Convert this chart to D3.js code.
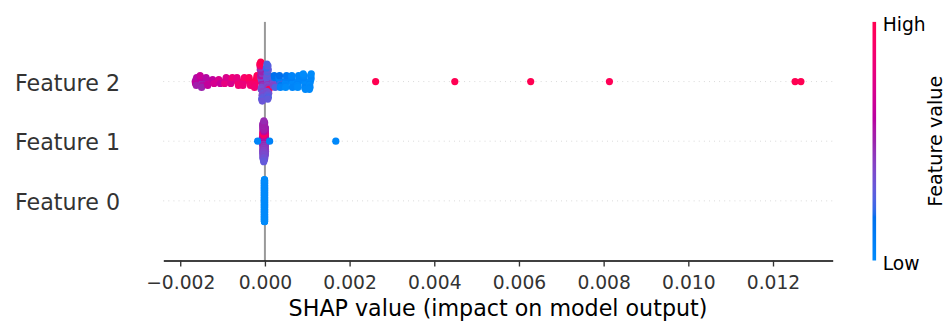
<!DOCTYPE html>
<html>
<head>
<meta charset="utf-8">
<script src="https://cdn.jsdelivr.net/npm/d3@7"></script>
<style>
  html, body { margin: 0; padding: 0; background: #fff; }
  svg { display: block; font-family: "DejaVu Sans", sans-serif; }
</style>
</head>
<body>
<script>
// Feature names, bottom row first
const featureNames = ["Feature 0", "Feature 1", "Feature 2"];

// SHAP values per sample (152 samples) for each feature
const shapF2 = [
  -0.001646, -0.001628, -0.001639, -0.001612, -0.001620,
  -0.001503, -0.001521, -0.001488, -0.001510, -0.001475, -0.001530, -0.001495,
  -0.001362, -0.001375, -0.001340, -0.001390, -0.001350,
  -0.001220, -0.001235, -0.001200,
  -0.001070, -0.001090, -0.001055,
  -0.000935, -0.000920, -0.000950, -0.000915,
  -0.000790, -0.000775, -0.000805, -0.000770,
  -0.000640, -0.000655, -0.000630, -0.000660, -0.000625,
  -0.000505, -0.000490, -0.000515, -0.000485, -0.000520,
  -0.000355, -0.000370, -0.000345, -0.000375, -0.000340,
  -0.000215, -0.000200, -0.000230, -0.000190, -0.000240, -0.000185, -0.000245,
  -0.000070, -0.000085, -0.000060, -0.000095, -0.000050, -0.000100, -0.000080,
  -0.000065, -0.000090, -0.000075, -0.000055, -0.000110, -0.000045, -0.000105,
  -0.000068, -0.000115, -0.000040, -0.000120, -0.000078, -0.000098, -0.000062,
  0.000070, 0.000055, 0.000085, 0.000040, 0.000060, 0.000095, 0.000075,
  0.000050, 0.000100, 0.000065, 0.000045, 0.000080, 0.000090, 0.000035,
  0.000058, 0.000072, 0.000082, 0.000048, 0.000068,
  0.000210, 0.000225, 0.000200, 0.000235, 0.000195, 0.000220, 0.000240,
  0.000355, 0.000340, 0.000370, 0.000330, 0.000380, 0.000345, 0.000365,
  0.000500, 0.000515, 0.000485, 0.000520, 0.000480, 0.000510, 0.000490,
  0.000645, 0.000630, 0.000655, 0.000625, 0.000660, 0.000635, 0.000650,
  0.000785, 0.000800, 0.000770, 0.000805, 0.000765, 0.000795, 0.000775,
  0.000930, 0.000915, 0.000945, 0.000910, 0.000950, 0.000920, 0.000940, 0.000905, 0.000955,
  0.001070, 0.001085, 0.001060, 0.001090, 0.001055, 0.001080, 0.001065, 0.001095, 0.001050,
  0.002615, 0.004485, 0.006277, 0.008137, 0.012522, 0.012659
];
// normalised feature values (0 = low, 1 = high)
const valueF2 = [
  0.60, 0.55, 0.62, 0.58, 0.52,
  0.55, 0.62, 0.48, 0.60, 0.57, 0.65, 0.50,
  0.60, 0.52, 0.66, 0.58, 0.63,
  0.66, 0.62, 0.70,
  0.68, 0.72, 0.64,
  0.74, 0.70, 0.78, 0.72,
  0.76, 0.80, 0.72, 0.82,
  0.80, 0.76, 0.84, 0.78, 0.86,
  0.84, 0.88, 0.80, 0.90, 0.82,
  0.88, 0.92, 0.85, 0.94, 0.86,
  0.92, 0.95, 0.90, 0.97, 0.88, 0.96, 0.85,
  0.48, 0.40, 0.52, 0.38, 0.46, 0.55, 0.36,
  0.44, 0.34, 0.50, 0.40, 0.50, 0.32, 0.45,
  0.36, 0.80, 0.30, 0.97, 0.28, 1.00, 0.32,
  0.40, 0.35, 0.45, 0.30, 0.38, 0.28, 0.42,
  0.32, 0.98, 0.25, 0.36, 0.30, 0.34, 0.22,
  0.30, 0.28, 0.26, 0.25, 0.30,
  0.30, 0.20, 0.35, 0.15, 0.40, 0.18, 0.25,
  0.15, 0.10, 0.22, 0.08, 0.12, 0.18, 0.05,
  0.05, 0.10, 0.02, 0.08, 0.04, 0.12, 0.00,
  0.03, 0.06, 0.00, 0.08, 0.02, 0.05, 0.04,
  0.02, 0.00, 0.05, 0.03, 0.01, 0.04, 0.00,
  0.00, 0.03, 0.01, 0.05, 0.00, 0.02, 0.04, 0.00, 0.01,
  0.02, 0.00, 0.03, 0.01, 0.00, 0.04, 0.02, 0.00, 0.01,
  1.00, 0.99, 1.00, 0.98, 1.00, 0.99
];

const shapF1 = [
  0.000029, 0.000026, 0.000032,
  0.000011, 0.000008, 0.000014, 0.000010, 0.000012, 0.000009, 0.000013, 0.000011, 0.000007,
  0.000015, 0.000010, 0.000012, 0.000008, 0.000014, 0.000011, 0.000009, 0.000013, 0.000010,
  0.000012, 0.000008, 0.000014, 0.000011, 0.000009, 0.000013, 0.000010, 0.000012, 0.000011,
  -0.000063, -0.000060, -0.000066, -0.000062, -0.000064, -0.000061,
  -0.000008, -0.000005, -0.000011, -0.000007, -0.000009, -0.000004, -0.000012, -0.000006, -0.000010, -0.000008,
  -0.000003, -0.000013, -0.000007, -0.000009, -0.000005, -0.000011, -0.000008, -0.000006, -0.000010, -0.000004,
  -0.000012, -0.000007, -0.000009, -0.000005, -0.000011, -0.000008, -0.000006, -0.000010, -0.000003, -0.000013,
  -0.000007, -0.000009, -0.000005, -0.000011, -0.000008, -0.000006, -0.000010,
  -0.000045, -0.000042, -0.000048, -0.000044, -0.000046, -0.000041, -0.000049, -0.000043, -0.000047, -0.000045,
  -0.000040, -0.000050, -0.000044, -0.000046, -0.000042, -0.000048, -0.000045, -0.000043, -0.000047, -0.000041,
  -0.000049, -0.000044, -0.000046, -0.000042, -0.000048, -0.000045, -0.000043, -0.000047, -0.000040, -0.000050,
  -0.000044, -0.000046, -0.000042, -0.000048, -0.000045,
  -0.000026, -0.000023, -0.000029, -0.000025, -0.000027, -0.000022, -0.000030, -0.000024, -0.000028, -0.000026,
  -0.000021, -0.000031, -0.000025, -0.000027, -0.000023, -0.000029, -0.000026, -0.000024, -0.000028, -0.000022,
  -0.000030, -0.000025, -0.000027, -0.000023, -0.000029, -0.000026, -0.000024, -0.000028, -0.000021, -0.000031,
  -0.000025, -0.000027, -0.000023, -0.000029, -0.000026, -0.000024, -0.000028, -0.000022, -0.000030, -0.000025,
  -0.000027,
  -0.000174, 0.000111, 0.001674
];
const valueF1 = [
  0.58, 0.50, 0.45,
  0.62, 0.56, 0.50, 0.55, 0.48, 0.60, 0.45, 0.53, 0.49,
  0.64, 0.43, 0.72, 0.46, 0.90, 0.41, 0.74, 0.45, 0.66,
  0.40, 0.57, 0.42, 0.54, 0.38, 0.52, 0.40, 0.50, 0.37,
  0.58, 0.52, 0.48, 0.55, 0.46, 0.50,
  0.60, 0.56, 0.48, 0.54, 0.46, 0.57, 0.44, 0.55, 0.48, 0.62,
  0.42, 0.72, 0.45, 0.90, 0.40, 0.70, 0.44, 0.64, 0.39, 0.57,
  0.40, 0.54, 0.37, 0.51, 0.38, 0.52, 0.36, 0.50, 0.35, 0.48,
  0.37, 0.52, 0.33, 0.49, 0.32, 0.50, 0.34,
  0.60, 0.55, 0.49, 0.56, 0.46, 0.58, 0.44, 0.53, 0.49, 0.63,
  0.43, 0.74, 0.45, 0.96, 0.42, 0.93, 0.44, 0.70, 0.39, 0.58,
  0.42, 0.52, 0.38, 0.51, 0.38, 0.50, 0.36, 0.52, 0.35, 0.48,
  0.37, 0.50, 0.33, 0.49, 0.32,
  0.62, 0.57, 0.50, 0.56, 0.47, 0.59, 0.45, 0.54, 0.49, 0.64,
  0.43, 0.76, 0.46, 0.97, 0.41, 0.95, 0.44, 0.72, 0.40, 0.59,
  0.41, 0.53, 0.38, 0.52, 0.39, 0.51, 0.37, 0.53, 0.36, 0.49,
  0.38, 0.52, 0.34, 0.50, 0.33, 0.52, 0.35, 0.51, 0.31, 0.48,
  0.30,
  0.04, 0.06, 0.02
];

const shapF0 = [
  -0.00001, -0.00001, -0.00001, -0.00001, -0.00001, -0.00001, -0.00001, -0.00001, -0.00001, -0.00001, -0.00001, -0.00001, -0.00001, -0.00001, -0.00001, -0.00001, -0.00001, -0.00001, -0.00001,
  -0.00001, -0.00001, -0.00001, -0.00001, -0.00001, -0.00001, -0.00001, -0.00001, -0.00001, -0.00001, -0.00001, -0.00001, -0.00001, -0.00001, -0.00001, -0.00001, -0.00001, -0.00001, -0.00001,
  -0.00001, -0.00001, -0.00001, -0.00001, -0.00001, -0.00001, -0.00001, -0.00001, -0.00001, -0.00001, -0.00001, -0.00001, -0.00001, -0.00001, -0.00001, -0.00001, -0.00001, -0.00001, -0.00001,
  -0.00001, -0.00001, -0.00001, -0.00001, -0.00001, -0.00001, -0.00001, -0.00001, -0.00001, -0.00001, -0.00001, -0.00001, -0.00001, -0.00001, -0.00001, -0.00001, -0.00001, -0.00001, -0.00001,
  -0.00001, -0.00001, -0.00001, -0.00001, -0.00001, -0.00001, -0.00001, -0.00001, -0.00001, -0.00001, -0.00001, -0.00001, -0.00001, -0.00001, -0.00001, -0.00001, -0.00001, -0.00001, -0.00001,
  -0.00001, -0.00001, -0.00001, -0.00001, -0.00001, -0.00001, -0.00001, -0.00001, -0.00001, -0.00001, -0.00001, -0.00001, -0.00001, -0.00001, -0.00001, -0.00001, -0.00001, -0.00001, -0.00001,
  -0.00001, -0.00001, -0.00001, -0.00001, -0.00001, -0.00001, -0.00001, -0.00001, -0.00001, -0.00001, -0.00001, -0.00001, -0.00001, -0.00001, -0.00001, -0.00001, -0.00001, -0.00001, -0.00001,
  -0.00001, -0.00001, -0.00001, -0.00001, -0.00001, -0.00001, -0.00001, -0.00001, -0.00001, -0.00001, -0.00001, -0.00001, -0.00001, -0.00001, -0.00001, -0.00001, -0.00001, -0.00001, -0.00001
];
const valueF0 = [
  0, 0, 0, 0, 0, 0, 0, 0, 0, 0, 0, 0, 0, 0, 0, 0, 0, 0, 0,
  0, 0, 0, 0, 0, 0, 0, 0, 0, 0, 0, 0, 0, 0, 0, 0, 0, 0, 0,
  0, 0, 0, 0, 0, 0, 0, 0, 0, 0, 0, 0, 0, 0, 0, 0, 0, 0, 0,
  0, 0, 0, 0, 0, 0, 0, 0, 0, 0, 0, 0, 0, 0, 0, 0, 0, 0, 0,
  0, 0, 0, 0, 0, 0, 0, 0, 0, 0, 0, 0, 0, 0, 0, 0, 0, 0, 0,
  0, 0, 0, 0, 0, 0, 0, 0, 0, 0, 0, 0, 0, 0, 0, 0, 0, 0, 0,
  0, 0, 0, 0, 0, 0, 0, 0, 0, 0, 0, 0, 0, 0, 0, 0, 0, 0, 0,
  0, 0, 0, 0, 0, 0, 0, 0, 0, 0, 0, 0, 0, 0, 0, 0, 0, 0, 0
];

const xTicks = [-0.002, 0.000, 0.002, 0.004, 0.006, 0.008, 0.010, 0.012];
const xDomain = [-0.0024, 0.01341];
const colorbarTicks = ["Low", "High"];

const rows = [
  { name: featureNames[0], shap: shapF0, value: valueF0 },
  { name: featureNames[1], shap: shapF1, value: valueF1 },
  { name: featureNames[2], shap: shapF2, value: valueF2 }
];

// ---------- red-blue colormap built in LCh space ----------
function lch2rgb(l, c, h) {
  const a = c * Math.cos(h), b = c * Math.sin(h);
  const fy = (l + 16) / 116, fx = a / 500 + fy;
  let fz = fy - b / 200; if (fz < 0) fz = 0;
  const f = t => t > 0.2068966 ? t * t * t : (t - 16 / 116) / 7.787;
  const X = f(fx) * 0.95047, Y = f(fy), Z = f(fz) * 1.08883;
  const lin = [
     3.24048134 * X - 1.53715152 * Y - 0.49853633 * Z,
    -0.96925495 * X + 1.87599    * Y + 0.04155593 * Z,
     0.05564664 * X - 0.20404134 * Y + 1.05731107 * Z
  ];
  return lin.map(v => {
    v = v > 0.0031308 ? 1.055 * Math.pow(v, 1 / 2.4) - 0.055 : 12.92 * v;
    return Math.min(1, Math.max(0, v));
  });
}
const blueLch = [54, 70, 4.6588];
const redLch = [54, 90, 0.35470565 + 2 * Math.PI];
const lMid = 40, nSteps = 100;
const cmapSteps = d3.range(nSteps).map(i => {
  const half = nSteps / 2;
  const l = i < half ? blueLch[0] + (lMid - blueLch[0]) * i / (half - 1)
                     : lMid + (redLch[0] - lMid) * (i - half) / (half - 1);
  const t = i / (nSteps - 1);
  const c = blueLch[1] + (redLch[1] - blueLch[1]) * t;
  const h = blueLch[2] + (redLch[2] - blueLch[2]) * t;
  return lch2rgb(l, c, h);
});
function redBlue(t) {
  t = Math.max(0, Math.min(1, t));
  const p = t * (nSteps - 1), i = Math.min(nSteps - 2, Math.floor(p)), f = p - i;
  const a = cmapSteps[i], b = cmapSteps[i + 1];
  return d3.rgb(...a.map((v, k) => 255 * (v + (b[k] - v) * f))).formatHex();
}

// ---------- beeswarm offsets (binned stacking, alternating up/down) ----------
function swarmOffsets(shaps, rowHeight) {
  const nbins = 100;
  const lo = d3.min(shaps), hi = d3.max(shaps);
  const quant = shaps.map(v => Math.round(nbins * (v - lo) / (hi - lo + 1e-8)));
  const order = d3.range(shaps.length).sort((a, b) => quant[a] - quant[b] || a - b);
  const ys = new Array(shaps.length).fill(0);
  let layer = 0, last = -1;
  for (const i of order) {
    if (quant[i] !== last) layer = 0;
    ys[i] = Math.ceil(layer / 2) * ((layer % 2) * 2 - 1);
    layer += 1;
    last = quant[i];
  }
  const k = 0.9 * rowHeight / (d3.max(ys) + 1);
  return ys.map(y => y * k);
}

// ---------- layout ----------
const W = 947, H = 323;
const plot = { left: 163.3, right: 832.7, top: 21.9, bottom: 260.5 };
const svg = d3.select("body").append("svg").attr("width", W).attr("height", H);

const x = d3.scaleLinear().domain(xDomain).range([plot.left, plot.right]);
const y = d3.scaleLinear().domain([-1, rows.length]).range([plot.bottom, plot.top]);

// dotted guide per feature row
svg.append("g").selectAll("line").data(rows).join("line")
  .attr("x1", plot.left).attr("x2", plot.right)
  .attr("y1", (d, i) => y(i)).attr("y2", (d, i) => y(i))
  .attr("stroke", "#cccccc").attr("stroke-width", 0.85)
  .attr("stroke-dasharray", "0.85 4.25");

// zero reference line
svg.append("line")
  .attr("x1", x(0)).attr("x2", x(0))
  .attr("y1", plot.top).attr("y2", plot.bottom)
  .attr("stroke", "#999999").attr("stroke-width", 2);

// points
rows.forEach((row, r) => {
  const offs = swarmOffsets(row.shap, 0.4);
  svg.append("g").selectAll("circle").data(row.shap).join("circle")
    .attr("cx", d => x(d))
    .attr("cy", (d, i) => y(r + offs[i]))
    .attr("r", 3.6)
    .attr("fill", (d, i) => redBlue(row.value[i]));
});

// feature labels
svg.append("g").selectAll("text").data(rows).join("text")
  .attr("x", 120).attr("y", (d, i) => y(i) + 9.1)
  .attr("text-anchor", "end")
  .attr("font-size", 22.2).attr("fill", "#333333")
  .text(d => d.name);

// x axis
const xAxis = svg.append("g")
  .attr("transform", `translate(0,${plot.bottom})`)
  .call(d3.axisBottom(x).tickValues(xTicks).tickFormat(d3.format(".3f"))
    .tickSize(6).tickSizeOuter(0).tickPadding(9.5));
xAxis.select(".domain").attr("stroke", "#000").attr("stroke-width", 1.36);
xAxis.selectAll(".tick line").attr("stroke", "#333333").attr("stroke-width", 1.36);
xAxis.selectAll(".tick text")
  .attr("font-family", "DejaVu Sans").attr("font-size", 18.7).attr("fill", "#333333");

svg.append("text")
  .attr("x", (plot.left + plot.right) / 2).attr("y", 316)
  .attr("text-anchor", "middle")
  .attr("font-size", 22.2).attr("fill", "#000")
  .text("SHAP value (impact on model output)");

// colour bar
const cb = { x: 872.5, w: 3.6 };
const grad = svg.append("defs").append("linearGradient")
  .attr("id", "featureValueGradient")
  .attr("x1", 0).attr("y1", 1).attr("x2", 0).attr("y2", 0);
grad.selectAll("stop").data(cmapSteps).join("stop")
  .attr("offset", (d, i) => i / (nSteps - 1))
  .attr("stop-color", d => d3.rgb(d[0] * 255, d[1] * 255, d[2] * 255).formatHex());
svg.append("rect")
  .attr("x", cb.x).attr("y", plot.top)
  .attr("width", cb.w).attr("height", plot.bottom - plot.top)
  .attr("fill", "url(#featureValueGradient)");

const cbScale = d3.scaleLinear().domain([0, 1]).range([plot.bottom, plot.top]);
svg.append("g").selectAll("text").data(colorbarTicks).join("text")
  .attr("x", 882.7).attr("y", (d, i) => cbScale(i) + 9.3)
  .attr("font-size", 18.7).attr("fill", "#000")
  .text(d => d);

svg.append("text")
  .attr("transform", `translate(941.5,${(plot.top + plot.bottom) / 2}) rotate(-90)`)
  .attr("text-anchor", "middle")
  .attr("font-size", 19.2).attr("fill", "#000")
  .text("Feature value");
</script>
</body>
</html>
